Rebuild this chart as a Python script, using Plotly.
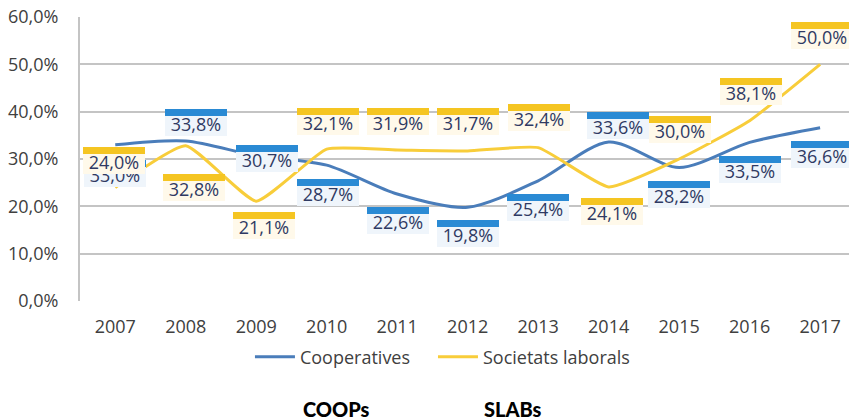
import plotly.graph_objects as go

# ---- data ----
years = ["2007", "2008", "2009", "2010", "2011", "2012", "2013", "2014", "2015", "2016", "2017"]
cooperatives = [33.0, 33.8, 30.7, 28.7, 22.6, 19.8, 25.4, 33.6, 28.2, 33.5, 36.6]
societats_laborals = [24.0, 32.8, 21.1, 32.1, 31.9, 31.7, 32.4, 24.1, 30.0, 38.1, 50.0]
y_ticks = [0, 10, 20, 30, 40, 50, 60]
series_names = ["Cooperatives", "Societats laborals"]
footer_labels = ["COOPs", "SLABs"]

# ---- label placement (pixel offsets of each box centre from its point: dx right, dy down) ----
coop_offsets = [(0, 29), (10, -19), (11, 3), (1, 27), (1, 26), (0, 26),
                (0, 27), (9, -16), (0, 27), (0, 27), (2, 27)]
slab_offsets = [(-1, -27), (8, 42), (8, 24), (1, -28), (1, -29), (0, -29),
                (1, -30), (3, 25), (1, -30), (1, -29), (2, -29)]

BLUE_LINE = "#4A7DBA"
YELLOW_LINE = "#F8CD3A"
BLUE_HEAD = "#2A8AD4"
YELLOW_HEAD = "#F5C522"
BLUE_BODY = "#EFF5FB"
YELLOW_BODY = "#FFF9EA"
LABEL_TEXT = "#2F3A63"
AXIS_TEXT = "#404040"
GRID = "#C4C4C4"
FONT = "Open Sans, sans-serif"

x = list(range(len(years)))

fig = go.Figure()
fig.add_trace(go.Scatter(
    x=x, y=cooperatives, name=series_names[0], mode="lines", legend="legend",
    line=dict(color=BLUE_LINE, width=3, shape="spline", smoothing=0.8),
))
fig.add_trace(go.Scatter(
    x=x, y=societats_laborals, name=series_names[1], mode="lines", legend="legend2",
    line=dict(color=YELLOW_LINE, width=3, shape="spline", smoothing=0.45),
))


def fmt(v):
    return f"{v:.1f}".replace(".", ",") + "%"


BOX_W, BOX_H, HEAD_H = 62, 27, 7


def add_label(i, value, off, head, body):
    dx, dy = off
    # box body carrying the value text
    fig.add_annotation(
        x=i, y=value, xref="x", yref="y", showarrow=False,
        xanchor="center", yanchor="middle", xshift=dx, yshift=-dy,
        text=fmt(value), width=BOX_W, height=BOX_H, valign="bottom",
        bgcolor=body, borderpad=0, borderwidth=0,
        font=dict(family=FONT, size=18, color=LABEL_TEXT),
    )
    # coloured header strip across the top of the box
    fig.add_annotation(
        x=i, y=value, xref="x", yref="y", showarrow=False,
        xanchor="center", yanchor="middle", xshift=dx,
        yshift=-(dy - BOX_H / 2 + HEAD_H / 2),
        text=" ", width=BOX_W, height=HEAD_H,
        bgcolor=head, borderpad=0, borderwidth=0,
        font=dict(size=4, color=head),
    )


for i, v in enumerate(cooperatives):
    add_label(i, v, coop_offsets[i], BLUE_HEAD, BLUE_BODY)
for i, v in enumerate(societats_laborals):
    add_label(i, v, slab_offsets[i], YELLOW_HEAD, YELLOW_BODY)

# footer captions
for xp, txt in zip([0.334, 0.562], footer_labels):
    fig.add_annotation(xref="paper", yref="paper", x=xp, y=-0.43,
                       text=txt, showarrow=False,
                       xanchor="center", yanchor="bottom",
                       font=dict(family="Lato, sans-serif", size=20, color="#000000",
                                 weight=900))

legend_common = dict(orientation="h", xanchor="left", y=-0.197, yanchor="middle",
                     font=dict(family=FONT, size=18, color=AXIS_TEXT),
                     itemwidth=40, bgcolor="rgba(0,0,0,0)")

fig.update_layout(
    width=849, height=420,
    margin=dict(l=80, r=0, t=17, b=119),
    paper_bgcolor="white", plot_bgcolor="white",
    separators=",.",
    font=dict(family=FONT, size=18, color=AXIS_TEXT),
    showlegend=True,
    legend=dict(x=0.221, **legend_common),
    legend2=dict(x=0.459, **legend_common),
)
fig.update_xaxes(
    range=[-0.5, 10.41], tickmode="array", tickvals=x, ticktext=years,
    showgrid=False, zeroline=False, showline=False, ticks="",
    ticklabelstandoff=13,
    tickfont=dict(family=FONT, size=18, color=AXIS_TEXT),
)
fig.update_yaxes(
    range=[0, 60], tickmode="array", tickvals=y_ticks,
    ticktext=[fmt(t) for t in y_ticks],
    showgrid=True, gridcolor=GRID, gridwidth=2,
    zeroline=False, showline=True, linecolor=GRID, linewidth=2,
    ticks="", ticklabelstandoff=16,
    tickfont=dict(family=FONT, size=18, color=AXIS_TEXT),
)

fig.write_html("out.html")
